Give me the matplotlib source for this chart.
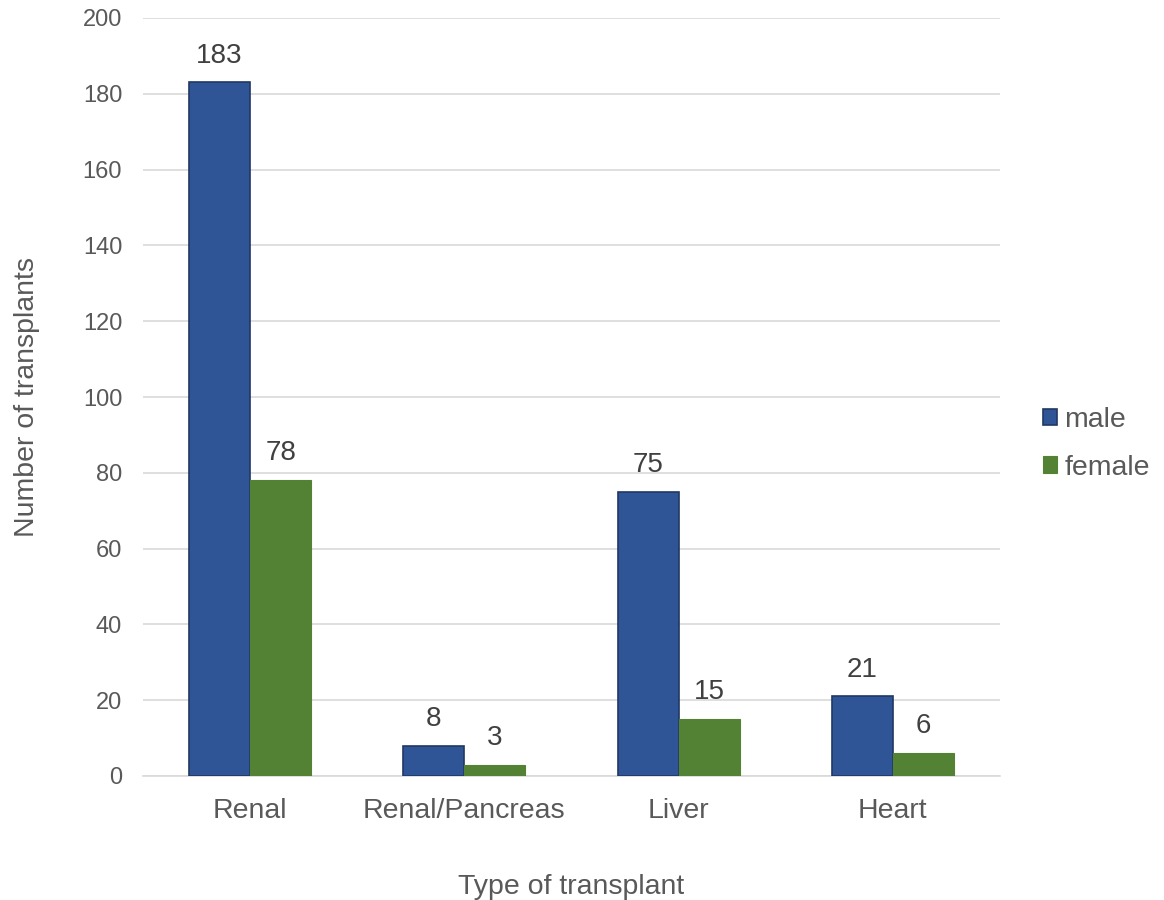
import matplotlib
matplotlib.use("Agg")
import matplotlib.pyplot as plt
import numpy as np

categories = ["Renal", "Renal/Pancreas", "Liver", "Heart"]
male = [183, 8, 75, 21]
female = [78, 3, 15, 6]
series_names = ["male", "female"]

plt.rcParams['font.family'] = ['Liberation Sans', 'DejaVu Sans']

fig = plt.figure(figsize=(11.64, 9), dpi=100)
ax = fig.add_axes([143/1164, 124/900, 857/1164, 758/900])

x = np.arange(len(categories))
w = 0.285
b1 = ax.bar(x - w/2, male, w, color="#2F5597", edgecolor="#203864", linewidth=1.2, label=series_names[0], zorder=3)
b2 = ax.bar(x + w/2, female, w, color="#548235", edgecolor="#548235", linewidth=0.8, label=series_names[1], zorder=3)

for bars, vals in ((b1, male), (b2, female)):
    for r, v in zip(bars, vals):
        ax.annotate(str(v), (r.get_x() + r.get_width()/2, v), xytext=(0, 10),
                    textcoords="offset points", ha="center", va="bottom",
                    fontsize=20, color="#404040")

ax.set_xlim(-0.5, 3.5)
ax.set_ylim(0, 200)
ax.set_yticks(range(0, 201, 20))
ax.yaxis.grid(True, color="#D9D9D9", linewidth=1.2, zorder=0)
ax.set_axisbelow(True)
for s in ["top", "right", "left"]:
    ax.spines[s].set_visible(False)
ax.spines["bottom"].set_color("#D9D9D9")
ax.spines["bottom"].set_linewidth(1.2)
ax.tick_params(axis="both", length=0, colors="#595959")
ax.tick_params(axis="y", labelsize=17, pad=15)
ax.tick_params(axis="x", labelsize=20.5, pad=15.5)
ax.set_xticks(x)
ax.set_xticklabels(categories)

ax.set_xlabel("Type of transplant", fontsize=20.5, color="#595959", labelpad=36)
ax.set_ylabel("Number of transplants", fontsize=20.5, color="#595959", labelpad=31)

leg = fig.legend(handles=[b1, b2], labels=series_names, loc="center left",
                 bbox_to_anchor=(1043/1164, 1 - 444/900), frameon=False, fontsize=20.5,
                 borderpad=0, borderaxespad=0,
                 handlelength=0.5, handleheight=0.5, handletextpad=0.25, labelspacing=0.75,
                 labelcolor="#595959")

fig.savefig("out.png", dpi=100)
